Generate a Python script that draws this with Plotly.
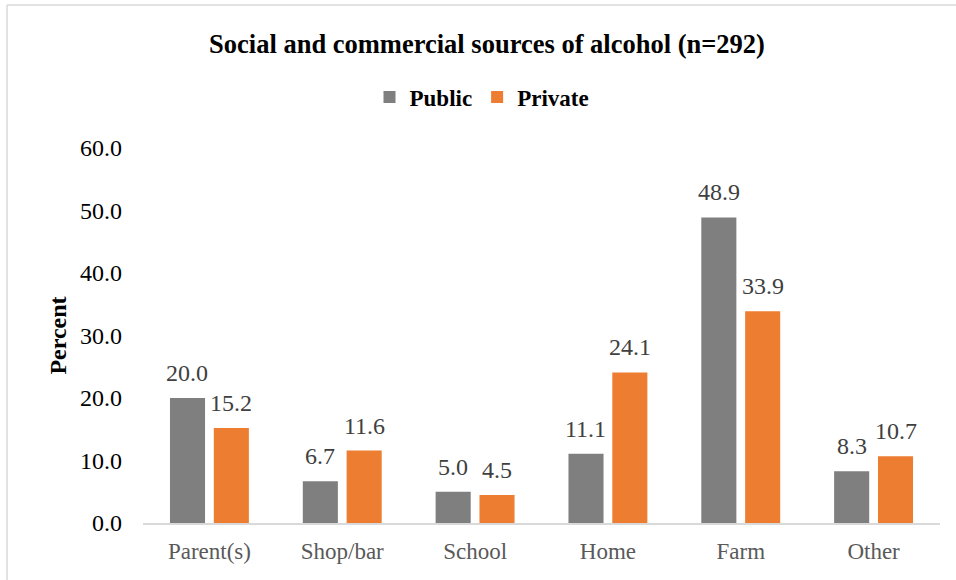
import plotly.graph_objects as go

categories = ["Parent(s)", "Shop/bar", "School", "Home", "Farm", "Other"]
public_pct = [20.0, 6.7, 5.0, 11.1, 48.9, 8.3]
private_pct = [15.2, 11.6, 4.5, 24.1, 33.9, 10.7]
y_ticks = [0, 10, 20, 30, 40, 50, 60]
y_tick_labels = ["0.0", "10.0", "20.0", "30.0", "40.0", "50.0", "60.0"]

SERIF = "Liberation Serif"
GRAY = "#7f7f7f"
ORANGE = "#ed7d31"

fig = go.Figure()
fig.add_trace(go.Bar(name="Public", x=categories, y=public_pct,
                     marker=dict(color=GRAY, line=dict(width=0))))
fig.add_trace(go.Bar(name="Private", x=categories, y=private_pct,
                     marker=dict(color=ORANGE, line=dict(width=0))))

# value labels above each bar
annotations = []
for series, shift in ((public_pct, -22), (private_pct, 22)):
    for cat, val in zip(categories, series):
        annotations.append(dict(
            x=cat, y=val, xref="x", yref="y", text=f"{val:.1f}",
            showarrow=False, xshift=shift, yanchor="bottom", yshift=10,
            font=dict(family=SERIF, size=24, color="#404040")))

fig.update_layout(
    width=956, height=580,
    margin=dict(l=143, r=16, t=148, b=57),
    paper_bgcolor="white", plot_bgcolor="white",
    barmode="group", bargap=0.34, bargroupgap=0.2,
    title=dict(text="<b>Social and commercial sources of alcohol (n=292)</b>",
               x=487 / 956, xanchor="center", y=1 - 44 / 580, yanchor="middle",
               font=dict(family=SERIF, size=26.5, color="#000000")),
    legend=dict(orientation="h", x=(482 - 143) / 797, xanchor="center",
                y=(523 - 97) / 375, yanchor="middle",
                font=dict(family=SERIF, size=23, color="#000000", weight="bold"),
                itemwidth=30, tracegroupgap=0, bgcolor="rgba(0,0,0,0)"),
    annotations=annotations,
    shapes=[
        dict(type="line", xref="paper", yref="paper",
             x0=(7 - 143) / 797, x1=(960 - 143) / 797,
             y0=(523 - 5) / 375, y1=(523 - 5) / 375,
             line=dict(color="#d9d9d9", width=1.5)),
        dict(type="line", xref="paper", yref="paper",
             x0=(7 - 143) / 797, x1=(7 - 143) / 797,
             y0=(523 - 5) / 375, y1=(523 - 585) / 375,
             line=dict(color="#d9d9d9", width=1.5)),
    ],
)

fig.update_xaxes(
    showgrid=False, showline=True, linecolor="#d9d9d9", linewidth=1.5,
    ticks="", ticklabelstandoff=7,
    tickfont=dict(family=SERIF, size=23, color="#595959"),
)
fig.update_yaxes(
    range=[0, 60], tickvals=y_ticks, ticktext=y_tick_labels,
    showgrid=False, zeroline=False, showline=False, ticks="",
    ticklabelstandoff=20,
    tickfont=dict(family=SERIF, size=24, color="#000000"),
    title=dict(text="<b>Percent</b>", standoff=6,
               font=dict(family=SERIF, size=24, color="#000000")),
)

fig.write_html("out.html")
